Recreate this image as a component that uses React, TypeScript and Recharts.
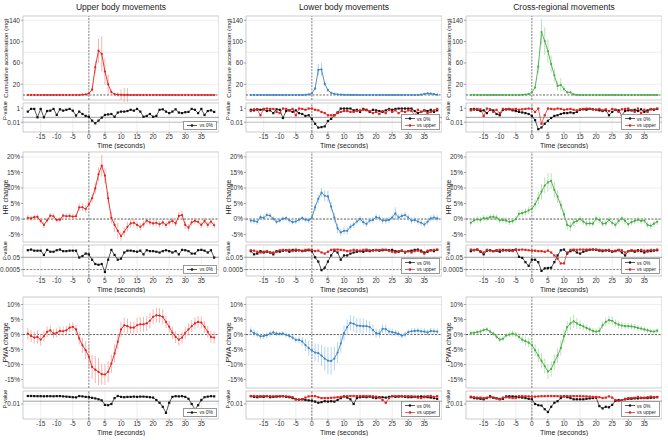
import { ComposedChart, Line, XAxis, YAxis, CartesianGrid, ReferenceLine, ReferenceArea, ErrorBar } from 'recharts';

// time relative to movement onset (s)
const times = [
  -19, -18, -17, -16, -15, -14, -13, -12, -11, -10,
  -9, -8, -7, -6, -5, -4, -3, -2, -1, 0,
  1, 2, 3, 4, 5, 6, 7, 8, 9, 10,
  11, 12, 13, 14, 15, 16, 17, 18, 19, 20,
  21, 22, 23, 24, 25, 26, 27, 28, 29, 30,
  31, 32, 33, 34, 35, 36, 37, 38, 39,
];

// cumulative acceleration (mg), mean and error
const accUpper = [
  0, 0, 0, 0, 0, 0, 0, 0, 0, 0,
  0, 0, 0, 0, 0, 0, 0, 0.5, 1, 3,
  10, 52, 83, 77, 44, 20, 5.5, 1.5, 0.5, 0.3,
  0.2, 0.2, 0, 0, 0, 0, 0, 0, 0, 0,
  0, 0, 0, 0, 0, 0, 0, 0, 0, 0,
  0, 0, 0, 0, 0, 0, 0, 0, 0,
];
const accUpperErr = [
  0.5, 0.5, 0.5, 0.5, 0.5, 0.5, 0.5, 0.5, 0.5, 0.5,
  0.5, 0.5, 0.5, 0.5, 0.5, 0.5, 0.5, 0.8, 1, 2,
  4, 12, 22, 33, 25, 18, 5, 2, 4, 10,
  13, 13, 1, 0.5, 0.5, 0.5, 0.5, 0.5, 0.5, 0.5,
  0.5, 0.5, 0.5, 0.5, 0.5, 0.5, 0.5, 0.5, 0.5, 0.5,
  0.5, 0.5, 0.5, 0.5, 0.5, 0.5, 0.5, 0.5, 0.5,
];
const accLower = [
  0, 0, 0, 0, 0, 0, 0, 0, 0, 0,
  0, 0, 0, 0, 0, 0, 0, 0.3, 1, 3,
  12, 47, 48, 21, 9, 4, 2, 1, 0.5, 0.3,
  0.3, 0.2, 0.2, 0.2, 0, 0, 0, 0, 0, 0,
  0, 0, 0, 0, 0, 0, 0, 0, 0, 0,
  0, 0, 0, 0.5, 2, 3, 2.5, 1.5, 0.5,
];
const accLowerErr = [
  0.3, 0.3, 0.3, 0.3, 0.3, 0.3, 0.3, 0.3, 0.3, 0.3,
  0.3, 0.3, 0.3, 0.3, 0.3, 0.3, 0.3, 0.5, 0.8, 1.5,
  3, 11, 12, 5, 3, 1.5, 1, 0.8, 0.5, 0.5,
  0.3, 0.3, 0.3, 0.3, 0.3, 0.3, 0.3, 0.3, 0.3, 0.3,
  0.3, 0.3, 0.3, 0.3, 0.3, 0.3, 0.3, 0.3, 0.3, 0.3,
  0.3, 0.3, 0.3, 0.8, 1.5, 2, 1.5, 1, 0.5,
];
const accCross = [
  0, 0, 0, 0, 0, 0, 0, 0, 0, 0,
  0, 0, 0, 0, 0, 0, 0.3, 0.8, 2, 5,
  14, 53, 118, 101, 82, 58, 37, 17, 19, 11,
  5, 5, 1, 0.3, 0, 0, 0, 0, 0, 0,
  0, 0, 0, 0, 0, 0, 0, 0, 0, 0,
  0, 0, 0, 0, 0, 0, 0, 0, 0,
];
const accCrossErr = [
  0.3, 0.3, 0.3, 0.3, 0.3, 0.3, 0.3, 0.3, 0.3, 0.3,
  0.3, 0.3, 0.3, 0.3, 0.3, 0.3, 0.5, 0.8, 1, 2,
  4, 12, 24, 26, 22, 16, 12, 9, 13, 6,
  3, 3, 1, 0.5, 0.3, 0.3, 0.3, 0.3, 0.3, 0.3,
  0.3, 0.3, 0.3, 0.3, 0.3, 0.3, 0.3, 0.3, 0.3, 0.3,
  0.3, 0.3, 0.3, 0.3, 0.3, 0.3, 0.3, 0.3, 0.3,
];

// heart rate change (%)
const hrUpper = [
  0.4, 0.2, 0.6, 0.7, -0.6, -1.9, -0.4, 1.1, 0.9, -0.3,
  -0.2, 1.1, 0.9, 1.0, 0.8, 0.9, 3.8, 3.8, 3.2, 4.7,
  6.7, 9.9, 14.4, 17.2, 14.0, 6.7, 0.4, -1.9, -3.8, -5.5,
  -4.1, -2.5, -1.4, -1.2, -1.9, -2.5, -1.7, -0.5, -1.1, -1.4,
  -1.2, -1.7, -1.1, -1.9, -1.1, -0.6, -1.4, 1.0, 1.3, -1.9,
  -2.8, -1.1, -0.6, -0.9, -1.9, -0.6, -1.9, -0.8, -2.0,
];
const hrUpperErr = [
  0.9, 0.8, 0.8, 0.8, 0.9, 1.0, 0.9, 0.8, 0.9, 0.8,
  0.8, 0.8, 0.9, 0.9, 0.9, 0.9, 1.2, 1.2, 1.2, 1.3,
  1.5, 1.8, 2.2, 3.5, 2.5, 2.0, 1.8, 2.2, 2.5, 1.5,
  1.5, 1.5, 1.4, 1.2, 1.2, 1.2, 1.0, 1.0, 1.0, 1.0,
  1.0, 1.0, 1.0, 1.0, 1.0, 1.0, 1.0, 1.2, 1.3, 1.2,
  1.2, 1.0, 1.0, 1.0, 1.0, 1.0, 1.0, 1.0, 1.0,
];
const hrLower = [
  -0.5, -0.6, -0.9, 0.6, 0.4, 1.3, 1.1, 0.1, -0.9, -0.5,
  0.1, 0.3, -0.4, -1.0, -0.8, -0.2, 0.3, -0.2, -0.4, 0.5,
  3.8, 6.5, 8.5, 7.5, 7.3, 4.0, 0.5, -3.0, -4.3, -3.8,
  -3.8, -2.5, -1.8, -0.8, 0.0, -1.0, -1.6, -0.5, -0.3, 0.6,
  0.3, -0.5, -0.5, -0.3, 0.5, 1.8, 0.5, 1.0, 1.3, 0.5,
  -0.5, -0.3, -0.8, -1.2, -1.8, -0.9, 0.2, 0.5, 0.2,
];
const hrLowerErr = [
  0.9, 0.9, 0.9, 0.9, 0.9, 0.9, 0.9, 0.8, 0.8, 0.8,
  0.8, 0.8, 0.8, 0.8, 0.8, 0.8, 0.8, 0.8, 0.8, 1.0,
  1.2, 1.5, 1.5, 1.8, 1.8, 1.5, 1.5, 1.5, 1.2, 1.2,
  1.2, 1.0, 1.0, 1.0, 1.0, 1.0, 1.0, 1.0, 1.0, 1.0,
  1.0, 1.0, 1.0, 1.0, 1.0, 2.0, 1.0, 1.0, 1.0, 1.0,
  1.0, 1.0, 1.0, 1.0, 1.0, 1.0, 1.0, 1.0, 1.0,
];
const hrCross = [
  -1.2, -0.4, -0.1, -0.3, 0.3, 0.2, 0.6, 0.7, 0.5, -0.4,
  -0.3, -0.5, -0.9, -0.7, 0.0, 1.7, 1.9, 2.3, 2.8, 3.3,
  4.8, 6.7, 8.8, 10.8, 11.8, 12.3, 9.4, 7.2, 4.5, 1.5,
  -1.9, -2.4, -1.1, -0.6, 0.0, -0.8, -1.5, -1.4, -1.5, 0.2,
  -0.3, -1.5, -1.4, -0.3, -1.2, -1.9, -0.6, 0.2, -0.6, -1.7,
  -1.0, -0.6, -0.2, -0.6, -0.5, -1.9, -2.2, -1.5, -0.9,
];
const hrCrossErr = [
  1.0, 1.0, 1.0, 1.0, 1.0, 1.0, 1.0, 1.0, 1.0, 1.0,
  1.0, 1.0, 1.0, 1.0, 1.0, 1.2, 1.2, 1.2, 1.2, 1.2,
  1.5, 2.0, 2.5, 2.5, 3.0, 2.5, 2.5, 2.0, 1.5, 1.5,
  1.5, 1.5, 1.2, 1.0, 1.0, 1.0, 1.0, 1.0, 1.0, 1.0,
  1.0, 1.0, 1.0, 1.0, 1.0, 1.0, 1.0, 1.0, 1.0, 1.0,
  1.0, 1.0, 1.0, 1.0, 1.0, 1.0, 1.0, 1.0, 1.0,
];

// pulse wave amplitude change (%)
const pwaUpper = [
  0.3, -0.5, -1.0, -0.8, -1.7, -0.6, 0.9, 1.4, 0.3, 0.6,
  1.2, 1.1, 1.4, 2.3, 2.6, 1.7, -1.3, -3.6, -5.2, -7.4,
  -10.8, -11.7, -12.4, -13.2, -13.3, -12.4, -9.7, -6.3, -2.4, 1.7,
  3.1, 2.8, 2.3, 2.3, 3.1, 3.4, 3.4, 3.7, 4.6, 5.9,
  6.4, 6.3, 5.9, 4.2, 2.6, 0.6, -0.8, -1.7, -1.0, 0.6,
  1.7, 2.8, 3.7, 4.2, 4.0, 2.6, 0.9, -0.8, -1.0,
];
const pwaUpperErr = [
  2.0, 2.0, 2.0, 2.2, 2.0, 1.8, 1.8, 1.6, 1.5, 1.5,
  1.5, 1.5, 1.5, 1.5, 1.5, 1.5, 2.0, 2.5, 3.0, 3.5,
  4.0, 4.5, 4.5, 3.5, 3.5, 3.5, 3.0, 3.0, 2.5, 2.5,
  2.5, 2.5, 2.0, 2.0, 2.5, 2.5, 2.5, 2.5, 2.5, 2.5,
  2.5, 2.5, 2.5, 2.0, 2.0, 2.0, 2.0, 2.0, 2.0, 2.0,
  2.0, 2.0, 2.0, 2.0, 2.0, 2.0, 2.0, 2.0, 2.0,
];
const pwaLower = [
  1.2, 0.5, 0.0, -0.6, -0.5, -0.2, 0.3, 0.7, 0.3, 0.2,
  0.3, -0.1, -0.5, -1.0, -1.8, -1.8, -2.3, -3.5, -4.5, -5.3,
  -6.0, -6.2, -7.0, -8.0, -8.7, -8.8, -8.0, -6.0, -3.0, 0.5,
  2.5, 3.9, 3.6, 3.0, 2.9, 2.8, 2.8, 2.5, 1.5, 0.5,
  0.3, 1.9, 1.8, 1.0, 0.8, 0.6, 0.2, -0.4, 0.0, 0.8,
  1.1, 1.2, 1.3, 1.1, 1.0, 0.7, 1.2, 1.1, 1.0,
];
const pwaLowerErr = [
  1.2, 1.2, 1.0, 1.0, 1.0, 1.0, 1.0, 0.8, 0.8, 0.8,
  0.8, 0.8, 0.8, 0.8, 1.0, 1.2, 1.5, 2.0, 2.5, 2.5,
  3.0, 3.0, 3.5, 4.0, 4.5, 4.5, 4.0, 3.5, 3.0, 2.5,
  2.5, 2.5, 2.5, 2.5, 2.5, 2.5, 2.0, 2.0, 1.8, 1.5,
  1.5, 1.5, 1.5, 1.2, 1.2, 1.0, 1.0, 1.0, 1.0, 1.0,
  1.0, 1.0, 1.0, 1.0, 1.0, 1.0, 1.0, 1.0, 1.0,
];
const pwaCross = [
  0.5, 0.6, 0.8, 1.0, 1.5, 1.7, 1.0, 0.3, -0.7, -1.7,
  -1.4, -0.3, 0.0, 0.3, 0.0, -0.8, -1.7, -2.2, -2.7, -3.5,
  -5.2, -7.0, -8.8, -10.5, -12.3, -11.5, -9.2, -7.0, -4.5, -0.5,
  2.5, 3.7, 4.4, 3.7, 3.2, 2.7, 2.2, 1.7, 1.2, 1.0,
  1.2, 3.1, 4.2, 4.8, 4.6, 3.8, 3.3, 3.0, 2.8, 2.8,
  2.7, 2.5, 2.2, 2.0, 1.7, 1.4, 1.1, 1.0, 1.3,
];
const pwaCrossErr = [
  0.8, 0.8, 0.8, 0.8, 0.8, 0.8, 0.8, 0.8, 0.8, 0.8,
  0.8, 0.8, 0.8, 1.0, 1.0, 1.2, 1.2, 1.5, 1.5, 1.8,
  2.0, 2.2, 2.5, 2.5, 2.5, 2.5, 2.5, 2.5, 2.5, 2.2,
  2.0, 2.2, 2.2, 1.8, 1.5, 1.2, 1.0, 1.0, 1.0, 1.0,
  1.2, 1.2, 1.5, 1.5, 1.5, 1.2, 1.2, 1.2, 1.0, 1.0,
  1.0, 1.0, 1.0, 0.8, 0.8, 0.8, 0.8, 0.8, 0.8,
];

// p-values: vs 0% and vs upper body movements
const pAccUpper0 = [
  0.33, 0.8, 0.8, 0.05, 0.8, 0.05, 0.4, 0.45, 0.8, 0.11,
  0.7, 0.45, 0.6, 0.8, 0.45, 0.09, 0.33, 0.15, 0.08, 0.06,
  0.017, 0.007, 0.017, 0.045, 0.11, 0.13, 0.15, 0.06, 0.24, 0.33,
  0.33, 0.4, 0.6, 0.45, 0.8, 0.33, 0.06, 0.08, 0.15, 0.06,
  0.08, 0.6, 0.7, 0.33, 0.2, 0.33, 0.7, 0.24, 0.2, 0.27,
  0.3, 0.8, 0.6, 0.2, 0.8, 0.11, 0.4, 0.5, 0.3,
];
const pAccLower0 = [
  0.6, 0.5, 0.7, 0.6, 0.7, 0.4, 0.5, 0.2, 0.7, 0.6,
  0.04, 0.4, 0.5, 0.3, 0.5, 0.2, 0.15, 0.08, 0.1, 0.03,
  0.006, 0.0017, 0.002, 0.0025, 0.015, 0.03, 0.1, 0.25, 0.9, 0.9,
  0.9, 0.9, 0.5, 0.6, 0.3, 0.8, 0.6, 0.3, 0.6, 0.5,
  0.4, 0.3, 0.5, 0.8, 0.6, 0.8, 0.9, 0.9, 0.9, 0.9,
  0.9, 0.4, 0.2, 0.3, 0.5, 0.4, 0.6, 0.3, 0.5,
];
const pAccLowerU = [
  0.4, 0.7, 0.6, 0.1, 0.8, 0.9, 0.8, 0.8, 0.3, 0.2,
  0.9, 0.8, 0.5, 0.8, 0.1, 0.9, 0.8, 0.6, 0.9, 0.9,
  0.6, 0.5, 0.3, 0.2, 0.1, 0.1, 0.1, 0.2, 0.3, 0.4,
  0.4, 0.3, 0.3, 0.4, 0.5, 0.6, 0.5, 0.4, 0.2, 0.3,
  0.15, 0.4, 0.2, 0.6, 0.3, 0.5, 0.2, 0.4, 0.3, 0.5,
  0.4, 0.1, 0.6, 0.3, 0.5, 0.2, 0.3, 0.5, 0.8,
];
const pAccCross0 = [
  0.7, 0.8, 0.6, 0.4, 0.5, 0.2, 0.6, 0.5, 0.15, 0.1,
  0.6, 0.7, 0.7, 0.5, 0.4, 0.3, 0.25, 0.2, 0.15, 0.08,
  0.02, 0.001, 0.0018, 0.006, 0.016, 0.04, 0.08, 0.1, 0.15, 0.2,
  0.2, 0.25, 0.2, 0.3, 0.6, 0.7, 0.6, 0.8, 0.7, 0.6,
  0.5, 0.4, 0.5, 0.1, 0.3, 0.6, 0.5, 0.1, 0.4, 0.5,
  0.5, 0.6, 0.4, 0.7, 0.3, 0.5, 0.7, 0.6, 0.8,
];
const pAccCrossU = [
  0.5, 0.6, 0.8, 0.7, 0.08, 0.9, 0.7, 0.3, 0.6, 0.2,
  0.8, 0.7, 0.8, 0.7, 0.8, 0.6, 0.7, 0.8, 0.9, 0.8,
  0.3, 0.9, 0.006, 0.1, 0.9, 0.8, 0.7, 0.9, 0.8, 0.6,
  0.7, 0.8, 0.6, 0.5, 0.7, 0.8, 0.9, 0.8, 0.7, 0.6,
  0.8, 0.5, 0.7, 0.4, 0.8, 0.6, 0.3, 0.7, 0.8, 0.9,
  0.5, 0.3, 0.9, 0.2, 0.6, 0.3, 0.8, 0.7, 0.9,
];
const pHrUpper0 = [
  0.7, 0.9, 0.6, 0.6, 0.6, 0.12, 0.8, 0.4, 0.4, 0.7,
  0.9, 0.5, 0.5, 0.6, 0.6, 0.6, 0.045, 0.08, 0.2, 0.15,
  0.02, 0.004, 0.003, 0.004, 0.0002, 0.02, 0.8, 0.12, 0.02, 0.03,
  0.3, 0.6, 0.6, 0.5, 0.4, 0.6, 0.15, 0.7, 0.5, 0.5,
  0.4, 0.3, 0.5, 0.7, 0.5, 0.3, 0.5, 0.15, 0.8, 0.7,
  0.5, 0.2, 0.2, 0.7, 0.8, 0.6, 0.3, 0.7, 0.045,
];
const pHrLower0 = [
  0.5, 0.15, 0.2, 0.5, 0.3, 0.4, 0.3, 0.15, 0.5, 0.4,
  0.6, 0.7, 0.4, 0.8, 0.6, 0.7, 0.5, 0.6, 0.7, 0.5,
  0.05, 0.01, 0.0004, 0.001, 0.01, 0.1, 0.6, 0.3, 0.02, 0.1,
  0.1, 0.2, 0.3, 0.4, 0.5, 0.4, 0.6, 0.5, 0.7, 0.7,
  0.6, 0.7, 0.8, 0.7, 0.8, 0.5, 0.4, 0.6, 0.3, 0.5,
  0.6, 0.8, 0.9, 0.6, 0.3, 0.4, 0.7, 0.5, 0.8,
];
const pHrLowerU = [
  0.7, 0.6, 0.4, 0.3, 0.4, 0.5, 0.3, 0.3, 0.4, 0.7,
  0.8, 0.7, 0.8, 0.5, 0.9, 0.7, 0.6, 0.8, 0.9, 0.8,
  0.5, 0.6, 0.3, 0.2, 0.4, 0.8, 0.9, 0.9, 0.8, 0.7,
  0.5, 0.6, 0.8, 0.7, 0.6, 0.8, 0.9, 0.7, 0.6, 0.8,
  0.7, 0.9, 0.8, 0.6, 0.4, 0.3, 0.5, 0.6, 0.4, 0.5,
  0.3, 0.5, 0.6, 0.4, 0.2, 0.6, 0.7, 0.8, 0.9,
];
const pHrCross0 = [
  0.5, 0.7, 0.9, 0.4, 0.15, 0.6, 0.7, 0.5, 0.6, 0.4,
  0.8, 0.7, 0.6, 0.7, 0.9, 0.06, 0.04, 0.008, 0.002, 0.02,
  0.02, 0.008, 0.0003, 0.0008, 0.0009, 0.001, 0.008, 0.1, 0.7, 0.9,
  0.2, 0.5, 0.7, 0.3, 0.2, 0.4, 0.6, 0.8, 0.9, 0.8,
  0.6, 0.5, 0.7, 0.6, 0.4, 0.5, 0.7, 0.3, 0.1, 0.5,
  0.6, 0.4, 0.7, 0.5, 0.3, 0.6, 0.5, 0.6, 0.7,
];
const pHrCrossU = [
  0.9, 0.8, 0.9, 0.5, 0.3, 0.8, 0.6, 0.5, 0.7, 0.8,
  0.6, 0.7, 0.8, 0.5, 0.8, 0.8, 0.9, 0.8, 0.7, 0.6,
  0.6, 0.5, 0.5, 0.4, 0.6, 0.3, 0.1, 0.03, 0.005, 0.005,
  0.3, 0.8, 0.9, 0.8, 0.9, 0.9, 0.9, 0.9, 0.9, 0.9,
  0.8, 0.7, 0.6, 0.8, 0.5, 0.6, 0.8, 0.7, 0.3, 0.5,
  0.7, 0.6, 0.5, 0.8, 0.6, 0.4, 0.8, 0.7, 0.9,
];
const pPwaUpper0 = [
  1, 1, 0.95, 0.9, 0.9, 0.85, 0.9, 0.9, 0.85, 0.95,
  0.95, 0.8, 0.7, 0.6, 0.5, 0.45, 0.95, 0.8, 0.6, 0.5,
  0.35, 0.25, 0.15, 0.08, 0.006, 0.005, 0.01, 0.3, 1, 0.6,
  0.5, 0.6, 0.6, 0.7, 0.6, 0.7, 0.7, 0.6, 0.5, 0.4,
  0.1, 0.02, 0.002, 0.00006, 0.02, 0.6, 0.9, 0.8, 0.9, 0.6,
  0.2, 0.01, 0.0005, 0.005, 0.1, 0.5, 0.7, 0.9, 0.8,
];
const pPwaLower0 = [
  0.9, 0.6, 0.5, 0.7, 0.6, 0.9, 0.5, 0.6, 0.7, 0.8,
  0.9, 0.6, 0.5, 0.3, 0.15, 0.12, 0.15, 0.1, 0.08, 0.07,
  0.04, 0.02, 0.03, 0.05, 0.04, 0.05, 0.04, 0.1, 0.3, 0.8,
  0.4, 0.15, 0.01, 0.3, 0.5, 0.6, 0.5, 0.7, 0.4, 0.3,
  0.5, 0.5, 0.4, 0.6, 0.9, 0.6, 0.7, 0.8, 0.6, 0.5,
  0.5, 0.6, 0.7, 0.8, 0.7, 0.5, 0.4, 0.3, 0.2,
];
const pPwaLowerU = [
  1, 1, 0.9, 0.9, 0.95, 0.9, 0.9, 0.8, 0.85, 0.9,
  0.9, 0.8, 0.7, 0.5, 0.15, 0.12, 0.15, 0.4, 0.8, 0.95,
  0.9, 0.5, 0.3, 0.3, 0.3, 0.35, 0.4, 0.5, 0.6, 0.8,
  0.9, 1, 1, 0.95, 0.95, 1, 0.9, 0.9, 0.8, 0.7,
  0.4, 0.1, 0.02, 0.3, 0.9, 0.9, 0.95, 0.9, 0.9, 0.95,
  0.9, 0.7, 0.4, 0.3, 0.5, 0.9, 1, 0.6, 0.9,
];
const pPwaCross0 = [
  0.5, 0.3, 0.25, 0.2, 0.15, 0.3, 0.9, 0.35, 0.25, 0.15,
  0.2, 0.8, 0.85, 0.8, 0.7, 0.5, 0.4, 0.3, 0.2, 0.15,
  0.01, 0.005, 0.004, 0.0005, 0.0001, 0.002, 0.02, 0.05, 0.3, 0.8,
  0.5, 0.3, 0.15, 0.15, 0.15, 0.15, 0.2, 0.25, 0.3, 0.4,
  0.003, 0.0008, 0.002, 0.0015, 0.006, 0.06, 0.1, 0.08, 0.15, 0.2,
  0.2, 0.25, 0.25, 0.3, 0.35, 0.3, 0.35, 0.4, 0.5,
];
const pPwaCrossU = [
  0.7, 0.5, 0.4, 0.4, 0.3, 0.4, 0.5, 0.4, 0.3, 0.2,
  0.4, 0.5, 0.4, 0.3, 0.3, 0.9, 0.9, 0.85, 0.8, 0.7,
  0.7, 0.8, 0.9, 0.9, 0.95, 0.95, 0.95, 0.9, 0.9, 0.95,
  0.95, 0.9, 0.95, 0.9, 0.9, 0.85, 0.8, 0.7, 0.6, 0.6,
  0.5, 0.3, 0.4, 0.8, 0.4, 0.1, 0.06, 0.08, 0.2, 0.3,
  0.3, 0.35, 0.6, 0.4, 0.3, 0.5, 0.7, 0.5, 0.6,
];

const X_DOMAIN: [number, number] = [-20.5, 40.5];
const X_TICKS = [-15, -10, -5, 0, 5, 10, 15, 20, 25, 30, 35];
const AXIS_W = 23;
const PLOT_W = 196;
const X_AXIS_H = 17;
const PAD = 5; // room above/below plots so rotated labels are not clipped
const TICK_FONT = { fontSize: 6.5, fill: '#333' };
const RED = '#e3211c';

const columns = [
  {
    title: 'Upper body movements', left: 23, color: RED, light: '#f2a19e',
    series: [[accUpper, accUpperErr], [hrUpper, hrUpperErr], [pwaUpper, pwaUpperErr]],
    pvals: [[pAccUpper0, null], [pHrUpper0, null], [pPwaUpper0, null]],
  },
  {
    title: 'Lower body movements', left: 246, color: '#3a85c4', light: '#a3c8e8',
    series: [[accLower, accLowerErr], [hrLower, hrLowerErr], [pwaLower, pwaLowerErr]],
    pvals: [[pAccLower0, pAccLowerU], [pHrLower0, pHrLowerU], [pPwaLower0, pPwaLowerU]],
  },
  {
    title: 'Cross-regional movements', left: 466, color: '#47ad45', light: '#a9dba6',
    series: [[accCross, accCrossErr], [hrCross, hrCrossErr], [pwaCross, pwaCrossErr]],
    pvals: [[pAccCross0, pAccCrossU], [pHrCross0, pHrCrossU], [pPwaCross0, pPwaCrossU]],
  },
];

const rows = [
  {
    label: 'Cumulative acceleration (mg)', labelSize: 6.1, pct: false,
    mainTop: 16, mainH: 84, domain: [-9.4, 148], ticks: [0, 20, 40, 60, 80, 100, 120, 140],
    subTop: 103, subH: 29, pDomain: [-3.4, 0.75], pTicks: [1, 0.05, 0.01], pExtra: 0.01, pExtraDash: false, pLabelDy: -7,
  },
  {
    label: 'HR change', labelSize: 7, pct: true,
    mainTop: 152, mainH: 90, domain: [-7.4, 21.6], ticks: [-5, 0, 5, 10, 15, 20],
    subTop: 245, subH: 31, pDomain: [-4.35, 0.7], pTicks: [1, 0.05, 0.0005], pExtra: 0.0005, pExtraDash: true, pLabelDy: -10,
  },
  {
    label: 'PWA change', labelSize: 7, pct: true,
    mainTop: 297, mainH: 91, domain: [-17.8, 12.5], ticks: [-15, -10, -5, 0, 5, 10],
    subTop: 391, subH: 28, pDomain: [-5.75, 1.25], pTicks: [1, 0.05, 0.01], pExtra: null, pExtraDash: false, pLabelDy: -6,
  },
];

const fmtP = (v: number) => String(Number(Math.pow(10, v).toPrecision(1)));

function squareDot(color: string) {
  return (props: any) => {
    if (props.cx == null || props.cy == null) return <g key={`n${props.index}`} />;
    return <rect key={`d${props.index}`} x={props.cx - 1.1} y={props.cy - 1.1} width={2.2} height={2.2} fill={color} />;
  };
}

function MainPanel({ col, row, values, errs }: any) {
  const data = times.map((t, i) => ({ t, v: values[i], e: errs[i] }));
  const w = AXIS_W + PLOT_W;
  const h = row.mainH + PAD * 2;
  return (
    <div style={{ position: 'absolute', left: col.left - AXIS_W, top: row.mainTop - PAD, width: w, height: h }}>
      <ComposedChart width={w} height={h} data={data} margin={{ top: PAD, right: 0, bottom: PAD, left: 0 }}>
        <CartesianGrid stroke="#e4e4e4" strokeWidth={0.6} />
        <XAxis type="number" dataKey="t" domain={X_DOMAIN} ticks={X_TICKS} allowDataOverflow height={0} tick={false} tickLine={false} axisLine={false} />
        <YAxis
          type="number" domain={row.domain} ticks={row.ticks} allowDataOverflow width={AXIS_W}
          tick={TICK_FONT} tickSize={2} tickMargin={1} axisLine={false} tickLine={{ stroke: '#666', strokeWidth: 0.6 }}
          tickFormatter={(v: number) => (row.pct ? `${v}%` : `${v}`)}
          label={{ value: row.label, angle: -90, position: 'insideLeft', offset: 6, fontSize: row.labelSize, fill: '#222', style: { textAnchor: 'middle' } }}
        />
        <ReferenceArea x1={X_DOMAIN[0]} x2={X_DOMAIN[1]} y1={row.domain[0]} y2={row.domain[1]} fill="none" stroke="#c4c4c4" strokeWidth={0.7} />
        <ReferenceLine y={0} stroke="#222" strokeDasharray="2 1.5" strokeWidth={0.7} />
        <ReferenceLine x={0} stroke="#444" strokeDasharray="2 1.2" strokeWidth={0.7} />
        <Line type="linear" dataKey="v" stroke={col.color} strokeWidth={0.9} dot={{ r: 1.1, fill: col.color, stroke: 'none' }} activeDot={false} isAnimationActive={false}>
          <ErrorBar dataKey="e" width={0} stroke={col.light} strokeWidth={0.8} direction="y" />
        </Line>
      </ComposedChart>
    </div>
  );
}

function PPanel({ col, row, p0, pu }: any) {
  const data = times.map((t, i) => ({ t, p0: Math.log10(p0[i]), pu: pu ? Math.log10(pu[i]) : null }));
  const w = AXIS_W + PLOT_W;
  const top = PAD * 2;
  const h = row.subH + X_AXIS_H + top;
  return (
    <div style={{ position: 'absolute', left: col.left - AXIS_W, top: row.subTop - top, width: w, height: h }}>
      <ComposedChart width={w} height={h} data={data} margin={{ top, right: 0, bottom: 0, left: 0 }}>
        <CartesianGrid stroke="#e4e4e4" strokeWidth={0.6} />
        <XAxis
          type="number" dataKey="t" domain={X_DOMAIN} ticks={X_TICKS} allowDataOverflow height={X_AXIS_H}
          tick={TICK_FONT} tickSize={2} tickMargin={0} axisLine={false} tickLine={{ stroke: '#666', strokeWidth: 0.6 }}
          label={{ value: 'Time (seconds)', position: 'insideBottom', offset: 1, fontSize: 7, fill: '#222' }}
        />
        <YAxis
          type="number" domain={row.pDomain} ticks={row.pTicks.map((p: number) => Math.log10(p))} allowDataOverflow width={AXIS_W}
          tick={TICK_FONT} tickSize={2} tickMargin={1} axisLine={false} tickLine={{ stroke: '#666', strokeWidth: 0.6 }}
          tickFormatter={fmtP}
          label={{ value: 'P-value', angle: -90, position: 'insideLeft', offset: 5, dy: row.pLabelDy, fontSize: 5.6, fill: '#222', style: { textAnchor: 'middle' } }}
        />
        <ReferenceArea x1={X_DOMAIN[0]} x2={X_DOMAIN[1]} y1={row.pDomain[0]} y2={row.pDomain[1]} fill="none" stroke="#c4c4c4" strokeWidth={0.7} />
        <ReferenceLine y={Math.log10(0.05)} stroke="#777" strokeWidth={0.7} />
        {row.pExtra != null && (
          <ReferenceLine y={Math.log10(row.pExtra)} stroke={row.pExtraDash ? '#555' : '#aaa'} strokeWidth={0.7} strokeDasharray={row.pExtraDash ? '2 1.5' : undefined} />
        )}
        <ReferenceLine x={0} stroke="#444" strokeDasharray="2 1.2" strokeWidth={0.7} />
        <Line type="linear" dataKey="p0" stroke="#111" strokeWidth={0.7} dot={squareDot('#111')} activeDot={false} isAnimationActive={false} />
        {pu && <Line type="linear" dataKey="pu" stroke={RED} strokeWidth={0.7} dot={squareDot(RED)} activeDot={false} isAnimationActive={false} />}
      </ComposedChart>
      <PLegend right={2} bottom={X_AXIS_H + 2} upper={!!pu} />
    </div>
  );
}

function LegendRow({ color, text }: { color: string; text: string }) {
  return (
    <div style={{ display: 'flex', alignItems: 'center', height: 6.5 }}>
      <svg width={10} height={5} style={{ marginRight: 2 }}>
        <line x1={0} y1={2.5} x2={10} y2={2.5} stroke={color} strokeWidth={0.7} />
        <rect x={3.9} y={1.4} width={2.2} height={2.2} fill={color} />
      </svg>
      <span>{text}</span>
    </div>
  );
}

function PLegend({ right, bottom, upper }: { right: number; bottom: number; upper: boolean }) {
  return (
    <div style={{ position: 'absolute', right, bottom, background: '#fff', border: '0.6px solid #999', padding: '0.5px 3px', fontSize: 5, lineHeight: '6.5px', color: '#222' }}>
      <LegendRow color="#111" text="vs 0%" />
      {upper && <LegendRow color={RED} text="vs upper" />}
    </div>
  );
}

export default function App() {
  return (
    <div style={{ position: 'absolute', left: 0, top: 0, width: 668, height: 440, background: '#fff', fontFamily: '"Liberation Sans", Arial, sans-serif', overflow: 'hidden' }}>
      {columns.map((col) => (
        <div key={col.title}>
          <div style={{ position: 'absolute', left: col.left, top: 2, width: PLOT_W, textAlign: 'center', fontSize: 8.5, color: '#222' }}>
            {col.title}
          </div>
          {rows.map((row, ri) => (
            <div key={row.label}>
              <MainPanel col={col} row={row} values={col.series[ri][0]} errs={col.series[ri][1]} />
              <PPanel col={col} row={row} p0={col.pvals[ri][0]} pu={col.pvals[ri][1]} />
            </div>
          ))}
        </div>
      ))}
    </div>
  );
}
